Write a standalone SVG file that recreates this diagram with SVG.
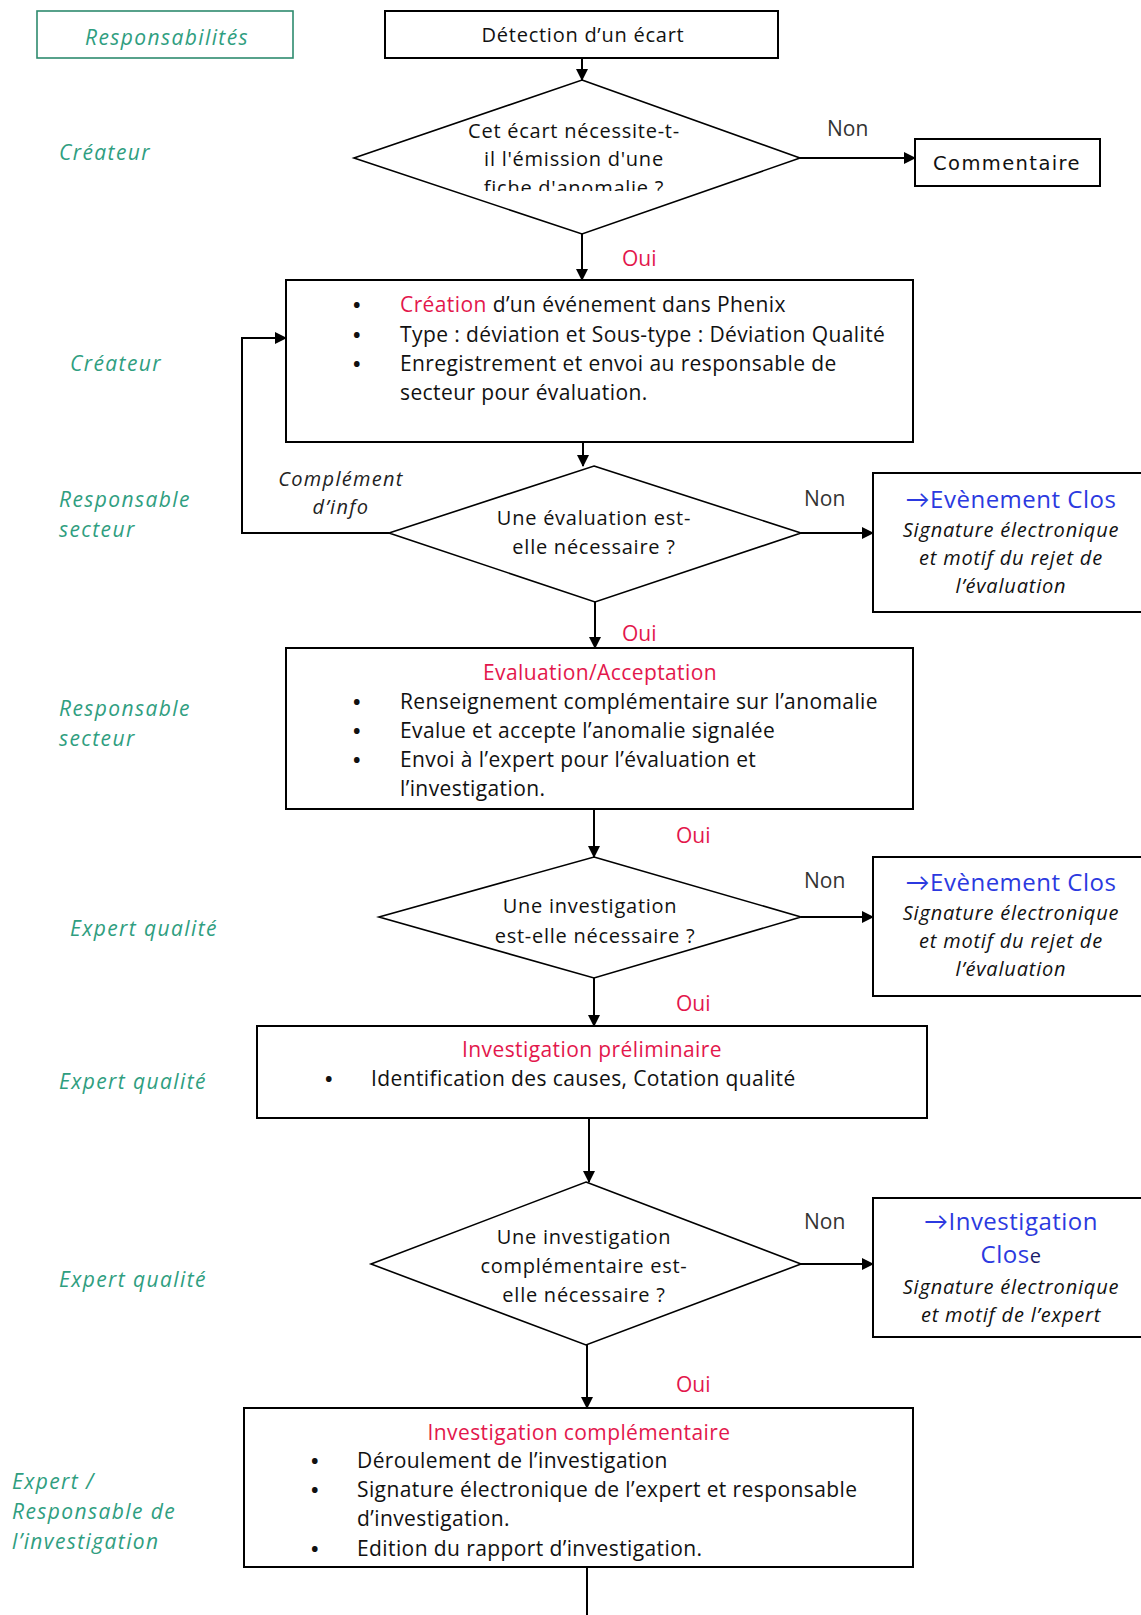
<svg xmlns="http://www.w3.org/2000/svg" width="1141" height="1615" viewBox="0 0 1141 1615">
<style>
.box{fill:#fff;stroke:#000;stroke-width:2}
.dia{fill:#fff;stroke:#000;stroke-width:1.6}
.con{fill:none;stroke:#000;stroke-width:2}
.t{font-family:"Open Sans",Lato,"Liberation Sans",sans-serif;font-size:21px;letter-spacing:0.4px;fill:#111}
.b{font-family:"Open Sans",Lato,"Liberation Sans",sans-serif;font-size:20px;font-weight:bold;fill:#111}
.tc{font-family:"Open Sans",Lato,"Liberation Sans",sans-serif;font-size:20px;letter-spacing:0.75px;fill:#111;text-anchor:middle}
.red{fill:#e3174c}
.lab{font-family:"Open Sans",Lato,"Liberation Sans",sans-serif;font-size:21px;letter-spacing:1.4px;font-style:italic;fill:#2f9e7f}
.blue{font-family:"Open Sans",Lato,"Liberation Sans",sans-serif;font-size:24px;letter-spacing:0.5px;fill:#2b39e0;text-anchor:middle}
.it{font-family:"Open Sans",Lato,"Liberation Sans",sans-serif;font-size:20px;letter-spacing:0.8px;font-style:italic;fill:#111;text-anchor:middle}
.yn{font-family:"Open Sans",Lato,"Liberation Sans",sans-serif;font-size:21px;fill:#333}
.oui{font-family:"Open Sans",Lato,"Liberation Sans",sans-serif;font-size:21px;fill:#e3174c}
.cmp{font-family:"Open Sans",Lato,"Liberation Sans",sans-serif;font-size:20px;letter-spacing:1.3px;font-style:italic;fill:#222;text-anchor:middle}
</style>
<defs>
<marker id="ah" markerUnits="userSpaceOnUse" markerWidth="12" markerHeight="12" refX="11" refY="6" orient="auto">
<path d="M0,0 L12,6 L0,12 z" fill="#000"/>
</marker>
<clipPath id="c1"><rect x="300" y="0" width="600" height="191"/></clipPath>
</defs>

<g id="lanes">
<rect x="37" y="11" width="256" height="47" fill="#fff" stroke="#2e8b6e" stroke-width="1.6"/>
<text class="lab" x="167" y="45" text-anchor="middle">Responsabilités</text>
<text class="lab" x="59" y="160">Créateur</text>
<text class="lab" x="70" y="371">Créateur</text>
<text class="lab" x="59" y="507">Responsable</text>
<text class="lab" x="59" y="537">secteur</text>
<text class="lab" x="59" y="716">Responsable</text>
<text class="lab" x="59" y="746">secteur</text>
<text class="lab" x="70" y="936">Expert qualité</text>
<text class="lab" x="59" y="1089">Expert qualité</text>
<text class="lab" x="59" y="1287">Expert qualité</text>
<text class="lab" x="12" y="1489">Expert /</text>
<text class="lab" x="12" y="1519">Responsable de</text>
<text class="lab" x="12" y="1549">l’investigation</text>
</g>

<g id="connectors">
<path class="con" d="M582,58 V80" marker-end="url(#ah)"/>
<path class="con" d="M800,158 H915" marker-end="url(#ah)"/>
<path class="con" d="M582,234 V280" marker-end="url(#ah)"/>
<path class="con" d="M583,442 V466" marker-end="url(#ah)"/>
<path class="con" d="M389,533 H242 V338 H286" marker-end="url(#ah)"/>
<path class="con" d="M801,533 H873" marker-end="url(#ah)"/>
<path class="con" d="M595,602 V648" marker-end="url(#ah)"/>
<path class="con" d="M594,809 V857" marker-end="url(#ah)"/>
<path class="con" d="M801,917 H873" marker-end="url(#ah)"/>
<path class="con" d="M594,978 V1026" marker-end="url(#ah)"/>
<path class="con" d="M589,1118 V1182" marker-end="url(#ah)"/>
<path class="con" d="M801,1264 H873" marker-end="url(#ah)"/>
<path class="con" d="M587,1345 V1408" marker-end="url(#ah)"/>
<path class="con" d="M587,1567 V1615"/>
<text class="yn" x="827" y="136">Non</text>
<text class="oui" x="622" y="266">Oui</text>
<text class="cmp" x="341" y="486">Complément</text>
<text class="cmp" x="341" y="514">d’info</text>
<text class="yn" x="804" y="506">Non</text>
<text class="oui" x="622" y="641">Oui</text>
<text class="oui" x="676" y="843">Oui</text>
<text class="yn" x="804" y="888">Non</text>
<text class="oui" x="676" y="1011">Oui</text>
<text class="yn" x="804" y="1229">Non</text>
<text class="oui" x="676" y="1392">Oui</text>
</g>

<g id="n-detection">
<rect class="box" x="385" y="11" width="393" height="47"/>
<text class="tc" x="583" y="42">Détection d’un écart</text>
</g>

<g id="n-d1">
<polygon class="dia" points="582,80 800,158 582,234 354,158"/>
<g clip-path="url(#c1)">
<text class="tc" x="574" y="138">Cet écart nécessite-t-</text>
<text class="tc" x="574" y="166">il l'émission d'une</text>
<text class="tc" x="574" y="195">fiche d'anomalie ?</text>
</g>
</g>

<g id="n-commentaire">
<rect class="box" x="915" y="139" width="185" height="47"/>
<text x="1007" y="170" text-anchor="middle" font-family="'DejaVu Sans','Open Sans',sans-serif" font-size="19.5" letter-spacing="1.4" fill="#111">Commentaire</text>
</g>

<g id="n-creation">
<rect class="box" x="286" y="280" width="627" height="162"/>
<text class="b" x="353" y="312">•</text>
<text class="t" x="400" y="312"><tspan class="red">Création</tspan> d’un événement dans Phenix</text>
<text class="b" x="353" y="342">•</text>
<text class="t" x="400" y="342">Type : déviation et Sous-type : Déviation Qualité</text>
<text class="b" x="353" y="371">•</text>
<text class="t" x="400" y="371">Enregistrement et envoi au responsable de</text>
<text class="t" x="400" y="400">secteur pour évaluation.</text>
</g>

<g id="n-d2">
<polygon class="dia" points="594,466 801,533 595,602 389,533"/>
<text class="tc" x="594" y="525">Une évaluation est-</text>
<text class="tc" x="594" y="554">elle nécessaire ?</text>
</g>

<g id="n-clos1">
<rect class="box" x="873" y="473" width="280" height="139"/>
<text class="blue" x="1011" y="508">→Evènement Clos</text>
<text class="it" x="1011" y="537">Signature électronique</text>
<text class="it" x="1011" y="565">et motif du rejet de</text>
<text class="it" x="1011" y="593">l’évaluation</text>
</g>

<g id="n-evaluation">
<rect class="box" x="286" y="648" width="627" height="161"/>
<text class="t red" x="600" y="680" text-anchor="middle" letter-spacing="0">Evaluation/Acceptation</text>
<text class="b" x="353" y="709">•</text>
<text class="t" x="400" y="709">Renseignement complémentaire sur l’anomalie</text>
<text class="b" x="353" y="738">•</text>
<text class="t" x="400" y="738">Evalue et accepte l’anomalie signalée</text>
<text class="b" x="353" y="767">•</text>
<text class="t" x="400" y="767">Envoi à l’expert pour l’évaluation et</text>
<text class="t" x="400" y="796">l’investigation.</text>
</g>

<g id="n-d3">
<polygon class="dia" points="594,857 801,917 594,978 379,917"/>
<text class="tc" x="590" y="913">Une investigation</text>
<text class="tc" x="595" y="943">est-elle nécessaire ?</text>
</g>

<g id="n-clos2">
<rect class="box" x="873" y="857" width="280" height="139"/>
<text class="blue" x="1011" y="891">→Evènement Clos</text>
<text class="it" x="1011" y="920">Signature électronique</text>
<text class="it" x="1011" y="948">et motif du rejet de</text>
<text class="it" x="1011" y="976">l’évaluation</text>
</g>

<g id="n-prelim">
<rect class="box" x="257" y="1026" width="670" height="92"/>
<text class="t red" x="592" y="1057" text-anchor="middle" letter-spacing="0">Investigation préliminaire</text>
<text class="b" x="325" y="1086">•</text>
<text class="t" x="371" y="1086">Identification des causes, Cotation qualité</text>
</g>

<g id="n-d4">
<polygon class="dia" points="586,1182 801,1264 586,1345 371,1264"/>
<text class="tc" x="584" y="1244">Une investigation</text>
<text class="tc" x="584" y="1273">complémentaire est-</text>
<text class="tc" x="584" y="1302">elle nécessaire ?</text>
</g>

<g id="n-close">
<rect class="box" x="873" y="1198" width="280" height="139"/>
<text class="blue" x="1011" y="1230">→Investigation</text>
<text class="blue" x="1011" y="1263">Clos<tspan fill="#1a1a6a" font-size="20">e</tspan></text>
<text class="it" x="1011" y="1294">Signature électronique</text>
<text class="it" x="1011" y="1322">et motif de l’expert</text>
</g>

<g id="n-complementaire">
<rect class="box" x="244" y="1408" width="669" height="159"/>
<text class="t red" x="579" y="1440" text-anchor="middle" letter-spacing="0">Investigation complémentaire</text>
<text class="b" x="311" y="1468">•</text>
<text class="t" x="357" y="1468">Déroulement de l’investigation</text>
<text class="b" x="311" y="1497">•</text>
<text class="t" x="357" y="1497">Signature électronique de l’expert et responsable</text>
<text class="t" x="357" y="1526">d’investigation.</text>
<text class="b" x="311" y="1556">•</text>
<text class="t" x="357" y="1556">Edition du rapport d’investigation.</text>
</g>
</svg>
